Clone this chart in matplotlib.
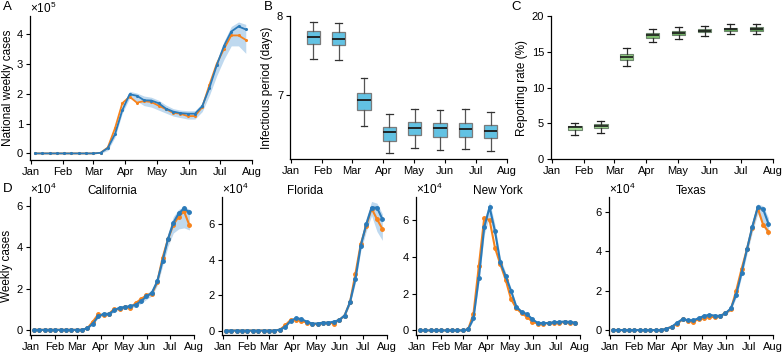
import numpy as np
import pandas as pd
import matplotlib
matplotlib.use("Agg")
import matplotlib.pyplot as plt
import matplotlib.dates as mdates

plt.rcParams['font.family'] = ['Liberation Sans', 'DejaVu Sans']
plt.rcParams['font.size'] = 8.5
plt.rcParams['mathtext.fontset'] = 'custom'
plt.rcParams['mathtext.rm'] = 'Liberation Sans'

# weekly dates
weeks = pd.date_range("2020-01-05", periods=30, freq="7D")
z9 = [0] * 9

# national weekly cases (x1e5)
nat_obs = z9 + [0.02, 0.2, 0.85, 1.68, 1.9, 1.7, 1.75, 1.72, 1.6, 1.48, 1.36, 1.33, 1.25, 1.25,
                1.55, 2.3, 3.0, 3.5, 3.95, 3.95, 3.8]
nat_fit = z9 + [0.02, 0.18, 0.65, 1.45, 1.98, 1.93, 1.78, 1.77, 1.68, 1.5, 1.4, 1.35, 1.33, 1.33,
                1.58, 2.2, 2.95, 3.6, 4.08, 4.25, 4.15]
nat_lo = z9 + [0.0, 0.1, 0.55, 1.35, 1.85, 1.75, 1.6, 1.55, 1.45, 1.35, 1.25, 1.2, 1.15, 1.15,
               1.4, 1.95, 2.6, 3.15, 3.6, 3.6, 3.35]
nat_hi = z9 + [0.04, 0.25, 0.8, 1.6, 2.08, 2.02, 1.92, 1.88, 1.78, 1.62, 1.5, 1.45, 1.43, 1.43,
               1.68, 2.35, 3.1, 3.75, 4.25, 4.4, 4.32]

# monthly box positions
box_dates = pd.to_datetime(["2020-01-23", "2020-02-17", "2020-03-13", "2020-04-07",
                            "2020-05-02", "2020-05-27", "2020-06-21", "2020-07-16"])

# infectious period (days): whislo, q1, med, q3, whishi
ip_stats = [
    [7.45, 7.65, 7.73, 7.81, 7.93],
    [7.44, 7.63, 7.71, 7.80, 7.91],
    [6.61, 6.81, 6.94, 7.03, 7.21],
    [6.26, 6.42, 6.53, 6.59, 6.76],
    [6.33, 6.49, 6.58, 6.66, 6.82],
    [6.31, 6.47, 6.58, 6.65, 6.81],
    [6.32, 6.47, 6.57, 6.64, 6.82],
    [6.29, 6.45, 6.55, 6.62, 6.79],
]

# reporting rate (%)
rr_stats = [
    [3.42, 4.07, 4.43, 4.67, 5.1],
    [3.6, 4.4, 4.67, 4.9, 5.36],
    [13.07, 13.86, 14.27, 14.7, 15.5],
    [16.4, 16.9, 17.3, 17.6, 18.2],
    [16.77, 17.3, 17.6, 17.9, 18.4],
    [17.27, 17.7, 17.97, 18.2, 18.66],
    [17.46, 17.87, 18.15, 18.38, 18.85],
    [17.46, 17.92, 18.2, 18.48, 18.94],
]
rr_colors = ["#a6dc96", "#9cd68c", "#8fcb7f", "#80bf70", "#70b263", "#62a558", "#5ea155", "#5b9e53"]

# states (x1e4)
states = ["California", "Florida", "New York", "Texas"]
st_obs = {
    "California": z9 + [0.0, 0.08, 0.4, 0.75, 0.7, 0.78, 1.02, 1.0, 1.12, 1.08, 1.3, 1.5, 1.68, 1.75,
                        2.3, 3.5, 4.4, 5.1, 5.5, 5.75, 5.08],
    "Florida": z9 + [0.0, 0.05, 0.3, 0.6, 0.6, 0.55, 0.45, 0.35, 0.38, 0.42, 0.45, 0.4, 0.6, 0.85,
                     1.6, 3.2, 4.9, 5.9, 6.9, 6.3, 5.75],
    "New York": z9 + [0.05, 0.9, 3.5, 6.1, 6.0, 4.5, 3.6, 2.75, 1.7, 1.2, 0.92, 0.73, 0.46, 0.37,
                      0.37, 0.4, 0.42, 0.42, 0.45, 0.42, 0.38],
    "Texas": z9 + [0.0, 0.07, 0.17, 0.3, 0.56, 0.48, 0.43, 0.55, 0.6, 0.68, 0.65, 0.73, 0.85, 1.05,
                   2.0, 3.1, 4.1, 5.2, 6.2, 5.35, 5.0],
}
st_fit = {
    "California": z9 + [0.0, 0.08, 0.3, 0.65, 0.78, 0.77, 0.95, 1.08, 1.1, 1.15, 1.22, 1.4, 1.62, 1.8,
                        2.35, 3.35, 4.4, 5.2, 5.65, 5.9, 5.7],
    "Florida": z9 + [0.0, 0.05, 0.2, 0.55, 0.7, 0.65, 0.5, 0.4, 0.4, 0.45, 0.45, 0.5, 0.6, 0.85,
                     1.6, 2.9, 4.8, 6.0, 6.95, 6.95, 6.3],
    "New York": z9 + [0.05, 0.65, 2.85, 5.6, 6.7, 5.4, 3.7, 2.95, 2.15, 1.28, 1.0, 0.88, 0.6, 0.4,
                      0.4, 0.4, 0.44, 0.46, 0.48, 0.46, 0.42],
    "Texas": z9 + [0.0, 0.07, 0.17, 0.38, 0.55, 0.5, 0.5, 0.6, 0.72, 0.77, 0.73, 0.72, 0.85, 1.1,
                   1.8, 2.9, 4.1, 5.25, 6.22, 6.15, 5.4],
}
st_lo = {
    "California": z9 + [0.0, 0.05, 0.25, 0.58, 0.7, 0.7, 0.87, 0.98, 1.0, 1.05, 1.12, 1.28, 1.48, 1.65,
                        2.15, 3.1, 4.05, 4.7, 4.9, 4.95, 4.85],
    "Florida": z9 + [0.0, 0.03, 0.17, 0.5, 0.63, 0.58, 0.45, 0.36, 0.36, 0.4, 0.4, 0.45, 0.55, 0.78,
                     1.45, 2.7, 4.5, 5.6, 6.5, 5.6, 5.1],
    "New York": z9 + [0.03, 0.55, 2.6, 5.2, 6.2, 5.0, 3.45, 2.75, 2.0, 1.18, 0.92, 0.8, 0.55, 0.36,
                      0.36, 0.36, 0.4, 0.42, 0.43, 0.41, 0.37],
    "Texas": z9 + [0.0, 0.05, 0.14, 0.33, 0.5, 0.45, 0.45, 0.55, 0.66, 0.7, 0.67, 0.66, 0.78, 1.0,
                   1.65, 2.7, 3.85, 4.95, 5.9, 5.3, 4.75],
}
st_hi = {
    "California": z9 + [0.0, 0.1, 0.35, 0.72, 0.86, 0.85, 1.03, 1.17, 1.2, 1.25, 1.32, 1.52, 1.76, 1.95,
                        2.55, 3.6, 4.7, 5.5, 5.85, 6.0, 5.85],
    "Florida": z9 + [0.0, 0.07, 0.24, 0.6, 0.77, 0.72, 0.55, 0.44, 0.44, 0.5, 0.5, 0.55, 0.66, 0.92,
                     1.75, 3.1, 5.1, 6.35, 7.3, 7.2, 6.6],
    "New York": z9 + [0.07, 0.75, 3.1, 6.0, 7.0, 5.75, 3.95, 3.15, 2.3, 1.38, 1.08, 0.95, 0.65, 0.44,
                      0.44, 0.44, 0.48, 0.5, 0.53, 0.51, 0.47],
    "Texas": z9 + [0.0, 0.09, 0.2, 0.43, 0.6, 0.55, 0.55, 0.65, 0.78, 0.84, 0.79, 0.78, 0.92, 1.2,
                   1.95, 3.1, 4.35, 5.5, 6.4, 6.3, 5.7],
}
st_ylim = {"California": 6.45, "Florida": 7.55, "New York": 7.25, "Texas": 6.75}

BLUE = "#2a7ab9"
ORANGE = "#f7821b"
BAND = "#bfd9ef"

xmin = pd.Timestamp("2019-12-31")
xmax = pd.Timestamp("2020-08-01")
month_ticks = pd.date_range("2020-01-01", "2020-08-01", freq="MS")


def style_axis(ax):
    ax.spines["top"].set_visible(False)
    ax.spines["right"].set_visible(False)
    ax.set_xlim(xmin, xmax)
    ax.set_xticks(month_ticks)
    ax.xaxis.set_major_formatter(mdates.DateFormatter("%b"))
    ax.tick_params(length=3, width=0.8, pad=2, labelsize=8)
    for s in ax.spines.values():
        s.set_linewidth(0.9)


def sci_label(ax, power):
    ax.annotate("×10$^{%d}$" % power, xy=(0, 1), xycoords="axes fraction",
                xytext=(0, 2), textcoords="offset points", fontsize=8.5, va="baseline")


fig = plt.figure(figsize=(7.84, 3.53), dpi=100)
W, H = 784, 353


def add_ax(l, t, r, b):
    return fig.add_axes([l / W, 1 - b / H, (r - l) / W, (b - t) / H])


# Panel A
axA = add_ax(30, 16, 252, 160)
axA.fill_between(weeks, nat_lo, nat_hi, color=BAND, lw=0)
axA.plot(weeks, nat_obs, color=ORANGE, lw=1.3, marker="o", ms=1.2)
axA.plot(weeks, nat_fit, color=BLUE, lw=1.3, marker="o", ms=1.2)
axA.set_ylim(-0.22, 4.6)
axA.set_yticks([0, 1, 2, 3, 4])
axA.set_ylabel("National weekly cases", labelpad=2)
style_axis(axA)
sci_label(axA, 5)
fig.text(3 / W, 1 - 7 / H, "A", fontsize=9.5, va="center")

# Panel B
axB = add_ax(290, 16, 507, 159)
bxB = [dict(whislo=s[0], q1=s[1], med=s[2], q3=s[3], whishi=s[4], fliers=[]) for s in ip_stats]
bB = axB.bxp(bxB, positions=mdates.date2num(box_dates), widths=13, patch_artist=True,
             showfliers=False, manage_ticks=False,
             boxprops=dict(facecolor="#62c2e3", edgecolor="#7a7a7a", lw=0.9),
             medianprops=dict(color="#1a1a1a", lw=1.3),
             whiskerprops=dict(color="#555555", lw=0.9),
             capprops=dict(color="#333333", lw=0.9))
axB.set_ylim(6.19, 8.0)
axB.set_yticks([7, 8])
axB.set_ylabel("Infectious period (days)", labelpad=3)
style_axis(axB)
fig.text(264 / W, 1 - 7 / H, "B", fontsize=9.5, va="center")

# Panel C
axC = add_ax(551, 16, 773, 159)
bxC = [dict(whislo=s[0], q1=s[1], med=s[2], q3=s[3], whishi=s[4], fliers=[]) for s in rr_stats]
bC = axC.bxp(bxC, positions=mdates.date2num(box_dates), widths=13, patch_artist=True,
             showfliers=False, manage_ticks=False,
             boxprops=dict(edgecolor="#6f866f", lw=0.8),
             medianprops=dict(color="#1a1a1a", lw=1.2),
             whiskerprops=dict(color="#333333", lw=0.9),
             capprops=dict(color="#222222", lw=0.9))
for patch, c in zip(bC["boxes"], rr_colors):
    patch.set_facecolor(c)
axC.set_ylim(0, 20)
axC.set_yticks([0, 5, 10, 15, 20])
axC.set_ylabel("Reporting rate (%)", labelpad=3)
style_axis(axC)
fig.text(511 / W, 1 - 7 / H, "C", fontsize=9.5, va="center")

# Panel D
d_boxes = [(30, 197, 194), (222, 197, 387), (416, 197, 580), (609, 197, 773)]
for i, (st, (l, t, r)) in enumerate(zip(states, d_boxes)):
    ax = add_ax(l, t, r, 335)
    ax.fill_between(weeks, st_lo[st], st_hi[st], color=BAND, lw=0)
    ax.plot(weeks, st_obs[st], color=ORANGE, lw=1.5, marker="o", ms=2.5)
    ax.plot(weeks, st_fit[st], color=BLUE, lw=1.5, marker="o", ms=2.5)
    ax.set_ylim(-0.25, st_ylim[st])
    ax.set_yticks([0, 2, 4, 6])
    style_axis(ax)
    ax.set_title(st, fontsize=8.5, pad=1)
    sci_label(ax, 4)
    if i == 0:
        ax.set_ylabel("Weekly cases", labelpad=3)
fig.text(3 / W, 1 - 189 / H, "D", fontsize=9.5, va="center")

fig.savefig("out.png", dpi=100)
